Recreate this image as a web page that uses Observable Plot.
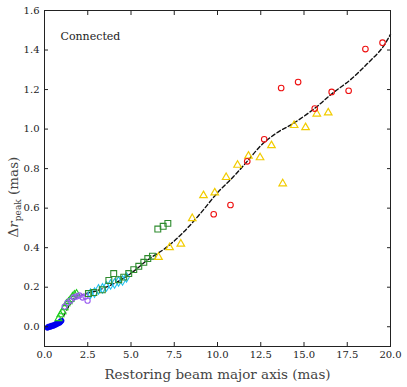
<!DOCTYPE html>
<html><head><meta charset="utf-8">
<script src="https://cdn.jsdelivr.net/npm/d3@7"></script>
<script src="https://cdn.jsdelivr.net/npm/@observablehq/plot@0.6"></script>
<style>body{margin:0;background:#fff}</style>
</head><body><div id="chart"></div>
<script>
const xTicks = [0, 2.5, 5, 7.5, 10, 12.5, 15, 17.5, 20];
const yTicks = [0, 0.2, 0.4, 0.6, 0.8, 1.0, 1.2, 1.4, 1.6];

const blueX = [0.17, 0.23, 0.29, 0.35, 0.40, 0.46, 0.52, 0.58, 0.64, 0.69, 0.75, 0.81, 0.87, 0.92, 0.98];
const blueY = [-0.005, 0.0, 0.0, 0.0, 0.005, 0.005, 0.005, 0.01, 0.01, 0.015, 0.015, 0.02, 0.02, 0.025, 0.03];

const limeX = [0.81, 0.92, 1.04, 1.16, 1.27, 1.39, 1.50, 1.62, 1.73, 1.85];
const limeY = [0.041, 0.061, 0.076, 0.097, 0.117, 0.127, 0.138, 0.153, 0.163, 0.168];

const purpleX = [1.16, 1.33, 1.50, 1.68, 1.85, 2.02, 2.20, 2.37, 2.49];
const purpleY = [0.102, 0.122, 0.132, 0.148, 0.153, 0.158, 0.148, 0.153, 0.132];

const cyanX = [2.66, 2.89, 3.12, 3.35, 3.58, 3.82, 4.05, 4.28, 4.51, 4.74];
const cyanY = [0.168, 0.173, 0.189, 0.194, 0.204, 0.214, 0.219, 0.229, 0.234, 0.250];

const greenX = [2.54, 2.85, 3.34, 3.72, 4.00, 4.29, 4.58, 4.87, 5.16, 5.45, 5.74, 5.97, 6.24, 6.55, 6.86, 7.13];
const greenY = [0.168, 0.173, 0.187, 0.234, 0.269, 0.238, 0.251, 0.269, 0.289, 0.306, 0.326, 0.345, 0.357, 0.494, 0.508, 0.523];

const yellowX = [6.59, 7.23, 7.88, 8.54, 9.19, 9.84, 10.50, 11.16, 11.79, 12.46, 13.12, 13.77, 14.43, 15.09, 15.74, 16.40];
const yellowY = [0.352, 0.401, 0.419, 0.548, 0.664, 0.678, 0.756, 0.818, 0.864, 0.856, 0.917, 0.724, 1.019, 1.008, 1.077, 1.083];

const redX = [9.78, 10.75, 11.72, 12.70, 13.68, 14.66, 15.62, 16.60, 17.58, 18.55, 19.54];
const redY = [0.569, 0.616, 0.837, 0.948, 1.208, 1.238, 1.104, 1.188, 1.194, 1.405, 1.437];

const fitX = [0.25, 0.6, 0.92, 1.2, 1.5, 2.08, 3.05, 4.0, 4.97, 5.93, 7.09, 8.05, 9.02, 9.98, 10.94, 11.72, 12.6, 13.5, 14.41, 15.66, 16.63, 17.69, 18.65, 19.52, 20.0];
const fitY = [-0.005, 0.01, 0.03, 0.07, 0.116, 0.158, 0.183, 0.218, 0.268, 0.336, 0.404, 0.48, 0.574, 0.676, 0.761, 0.837, 0.925, 0.985, 1.03, 1.108, 1.18, 1.25, 1.33, 1.41, 1.48];

const legendText = "Connected";
const xLabel = "Restoring beam major axis (mas)";

const zip = (xs, ys) => xs.map((x, i) => ({x, y: ys[i]}));
const fit = zip(fitX, fitY);

const font = "DejaVu Serif";

const plot = Plot.plot({
  width: 407, height: 387,
  marginLeft: 44, marginRight: 17, marginTop: 10, marginBottom: 41,
  x: {domain: [0, 20]},
  y: {domain: [-0.1, 1.6]},
  style: {fontFamily: font, fontSize: "10px", color: "#222", background: "#fff"},
  marks: [
    Plot.line(fit, {x: "x", y: "y", stroke: "#111", strokeWidth: 1.4, strokeDasharray: "4,2.5", curve: "catmull-rom"}),
    Plot.dot(zip(blueX, blueY), {x: "x", y: "y", r: 2.7, fill: "#0000ee", stroke: "#0000ee", strokeWidth: 0.6}),
    Plot.dot(zip(limeX, limeY), {x: "x", y: "y", symbol: "triangle", r: 2.6, stroke: "#22cc22", strokeWidth: 1.1, fill: "none"}),
    Plot.dot(zip(purpleX, purpleY), {x: "x", y: "y", r: 2.6, stroke: "#9a5cf0", strokeWidth: 1.1, fill: "none"}),
    Plot.dot(zip(cyanX, cyanY), {x: "x", y: "y", symbol: "diamond", r: 2.9, stroke: "#22c0f0", strokeWidth: 1.1, fill: "none"}),
    Plot.dot(zip(greenX, greenY), {x: "x", y: "y", symbol: "square", r: 3.3, stroke: "#2e8b2e", strokeWidth: 1.1, fill: "none"}),
    Plot.dot(zip(yellowX, yellowY), {x: "x", y: "y", symbol: "triangle", r: 2.8, stroke: "#f2cc00", strokeWidth: 1.2, fill: "none"}),
    Plot.dot(zip(redX, redY), {x: "x", y: "y", r: 2.8, stroke: "#ee1111", strokeWidth: 1.1, fill: "none"}),
    Plot.frame({stroke: "#222", strokeWidth: 1}),
    Plot.axisX(xTicks, {anchor: "bottom", tickSize: -4, text: null, label: null, stroke: "#222"}),
    Plot.axisX(xTicks, {anchor: "top", tickSize: -4, text: null, label: null, stroke: "#222"}),
    Plot.axisY(yTicks, {anchor: "left", tickSize: -4, text: null, label: null, stroke: "#222"}),
    Plot.axisY(yTicks, {anchor: "right", tickSize: -4, text: null, label: null, stroke: "#222"}),
    Plot.axisX(xTicks, {anchor: "bottom", tickSize: 0, tickPadding: 4, tickFormat: d3.format(".1f"), label: null, fontFamily: font, fontSize: 10}),
    Plot.axisY(yTicks, {anchor: "left", tickSize: 0, tickPadding: 5, tickFormat: d3.format(".1f"), label: null, fontFamily: font, fontSize: 10}),
    Plot.text([xLabel], {frameAnchor: "bottom", text: d => d, dy: 32, fontSize: 13.5, fontFamily: font, fill: "#444"}),
    Plot.text([legendText], {frameAnchor: "top-left", text: d => d, dx: 16, dy: 22, fontSize: 11, fontFamily: font, textAnchor: "start", fill: "#222"})
  ]
});

document.getElementById("chart").appendChild(plot);

// y-axis label with subscript
const svg = d3.select(plot);
const yl = svg.append("text")
  .attr("transform", "translate(18,197) rotate(-90)")
  .attr("text-anchor", "middle")
  .attr("font-family", font)
  .attr("font-size", 13.5)
  .attr("fill", "#444");
yl.append("tspan").text("Δ");
yl.append("tspan").attr("font-style", "italic").text("r");
yl.append("tspan").attr("font-size", 9).attr("dy", 3).text("peak");
yl.append("tspan").attr("dy", -3).text(" (mas)");
</script>
</body></html>
